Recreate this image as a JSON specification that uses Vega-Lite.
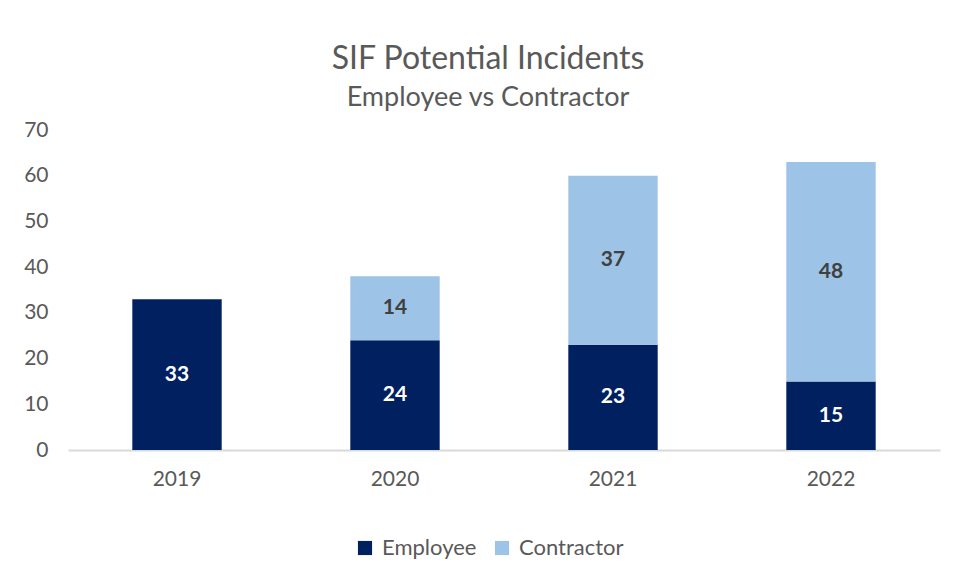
{
  "$schema": "https://vega.github.io/schema/vega-lite/v6.json",
  "width": 872,
  "height": 320,
  "autosize": {"type": "none"},
  "padding": {"left": 68, "top": 130, "right": 16, "bottom": 132},
  "background": "white",
  "title": {
    "text": "SIF Potential Incidents",
    "subtitle": "Employee vs Contractor",
    "anchor": "middle",
    "dx": -16,
    "offset": 7,
    "font": "Lato",
    "fontSize": 32,
    "fontWeight": "normal",
    "color": "#595959",
    "subtitleFont": "Lato",
    "subtitleFontSize": 27,
    "subtitleColor": "#595959",
    "subtitlePadding": 9
  },
  "data": {
    "values": [
      {"year": "2019", "type": "Employee", "count": 33, "order": 1},
      {"year": "2020", "type": "Employee", "count": 24, "order": 1},
      {"year": "2020", "type": "Contractor", "count": 14, "order": 2},
      {"year": "2021", "type": "Employee", "count": 23, "order": 1},
      {"year": "2021", "type": "Contractor", "count": 37, "order": 2},
      {"year": "2022", "type": "Employee", "count": 15, "order": 1},
      {"year": "2022", "type": "Contractor", "count": 48, "order": 2}
    ]
  },
  "transform": [
    {"stack": "count", "groupby": ["year"], "sort": [{"field": "order"}], "as": ["y0", "y1"]},
    {"calculate": "(datum.y0 + datum.y1) / 2", "as": "ymid"}
  ],
  "encoding": {
    "x": {
      "field": "year",
      "type": "nominal",
      "title": null,
      "scale": {"paddingInner": 0.59, "paddingOuter": 0.295},
      "axis": {
        "labelAngle": 0,
        "labelFont": "Lato",
        "labelFontSize": 21,
        "labelColor": "#595959",
        "labelPadding": 18,
        "ticks": false,
        "domainColor": "#D9D9D9",
        "domainWidth": 2,
        "grid": false
      }
    }
  },
  "layer": [
    {
      "mark": {"type": "bar"},
      "encoding": {
        "y": {
          "field": "y0",
          "type": "quantitative",
          "title": null,
          "scale": {"domain": [0, 70]},
          "axis": {
            "values": [0, 10, 20, 30, 40, 50, 60, 70],
            "labelFont": "Lato",
            "labelFontSize": 21,
            "labelColor": "#595959",
            "labelPadding": 20,
            "ticks": false,
            "domain": false,
            "grid": false
          }
        },
        "y2": {"field": "y1"},
        "color": {
          "field": "type",
          "type": "nominal",
          "scale": {"domain": ["Employee", "Contractor"], "range": ["#002060", "#9DC3E6"]},
          "legend": {
            "title": null,
            "orient": "none",
            "legendX": 286,
            "legendY": 407,
            "direction": "horizontal",
            "symbolType": "square",
            "symbolSize": 200,
            "symbolStrokeWidth": 0,
            "labelFont": "Lato",
            "labelFontSize": 22,
            "labelColor": "#595959",
            "columnPadding": 14,
            "labelOffset": 6
          }
        }
      }
    },
    {
      "mark": {"type": "text", "font": "Lato", "fontSize": 21, "fontWeight": "bold", "baseline": "middle", "align": "center"},
      "encoding": {
        "y": {"field": "ymid", "type": "quantitative"},
        "text": {"field": "count", "type": "quantitative"},
        "color": {
          "field": "type",
          "type": "nominal",
          "scale": {"domain": ["Employee", "Contractor"], "range": ["#FFFFFF", "#404040"]},
          "legend": null
        }
      }
    }
  ],
  "resolve": {"scale": {"color": "independent"}},
  "config": {"view": {"stroke": null}}
}
